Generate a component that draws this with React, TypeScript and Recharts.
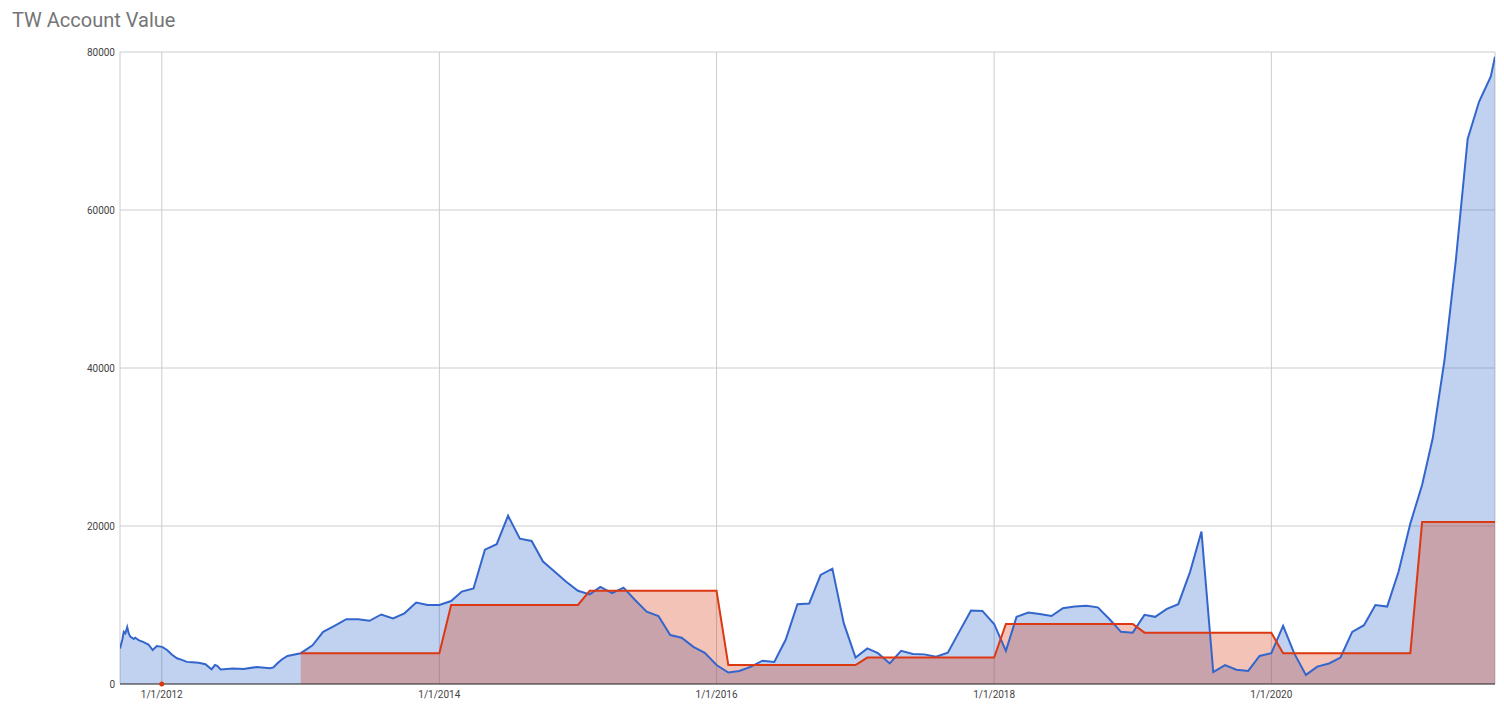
import React from 'react';
import { ComposedChart, Area, Line, XAxis, YAxis, CartesianGrid } from 'recharts';

// Account value (blue series)
const earlyDates: string[] = [
  '2011-09-13', '2011-09-19', '2011-09-23', '2011-09-27', '2011-10-02', '2011-10-06', '2011-10-10',
  '2011-10-15', '2011-10-19', '2011-10-23', '2011-11-01', '2011-11-14', '2011-11-27', '2011-12-08',
  '2011-12-19', '2012-01-02', '2012-01-15', '2012-01-28', '2012-02-10', '2012-02-23', '2012-03-07',
  '2012-03-21', '2012-04-07', '2012-04-25', '2012-05-11', '2012-05-20', '2012-05-26', '2012-06-04',
  '2012-07-07', '2012-08-03', '2012-09-07', '2012-10-12', '2012-10-21', '2012-10-31', '2012-11-12',
  '2012-11-27',
];
const earlyValues: number[] = [
  4500, 5600, 6600, 6400, 7200, 6400, 6000,
  5850, 5700, 5850, 5550, 5300, 5000, 4300,
  4800, 4700, 4300, 3700, 3250, 3050, 2800,
  2750, 2700, 2500, 1850, 2400, 2300, 1850,
  1950, 1900, 2150, 2000, 2100, 2600, 3100,
  3550,
];

const monthlyDates: string[] = [
  '2013-01-01', '2013-02-01', '2013-03-01', '2013-04-01', '2013-05-01', '2013-06-01', '2013-07-01', '2013-08-01', '2013-09-01', '2013-10-01', '2013-11-01', '2013-12-01',
  '2014-01-01', '2014-02-01', '2014-03-01', '2014-04-01', '2014-05-01', '2014-06-01', '2014-07-01', '2014-08-01', '2014-09-01', '2014-10-01', '2014-11-01', '2014-12-01',
  '2015-01-01', '2015-02-01', '2015-03-01', '2015-04-01', '2015-05-01', '2015-06-01', '2015-07-01', '2015-08-01', '2015-09-01', '2015-10-01', '2015-11-01', '2015-12-01',
  '2016-01-01', '2016-02-01', '2016-03-01', '2016-04-01', '2016-05-01', '2016-06-01', '2016-07-01', '2016-08-01', '2016-09-01', '2016-10-01', '2016-11-01', '2016-12-01',
  '2017-01-01', '2017-02-01', '2017-03-01', '2017-04-01', '2017-05-01', '2017-06-01', '2017-07-01', '2017-08-01', '2017-09-01', '2017-10-01', '2017-11-01', '2017-12-01',
  '2018-01-01', '2018-02-01', '2018-03-01', '2018-04-01', '2018-05-01', '2018-06-01', '2018-07-01', '2018-08-01', '2018-09-01', '2018-10-01', '2018-11-01', '2018-12-01',
  '2019-01-01', '2019-02-01', '2019-03-01', '2019-04-01', '2019-05-01', '2019-06-01', '2019-07-01', '2019-08-01', '2019-09-01', '2019-10-01', '2019-11-01', '2019-12-01',
  '2020-01-01', '2020-02-01', '2020-03-01', '2020-04-01', '2020-05-01', '2020-06-01', '2020-07-01', '2020-08-01', '2020-09-01', '2020-10-01', '2020-11-01', '2020-12-01',
  '2021-01-01', '2021-02-01', '2021-03-01', '2021-04-01', '2021-05-01', '2021-06-01', '2021-07-01', '2021-08-01', '2021-08-12',
];

const monthlyValues: number[] = [
  3900, 4900, 6600, 7400, 8200, 8200, 8000, 8800, 8300, 8950, 10300, 10000,
  10000, 10500, 11700, 12100, 17000, 17700, 21300, 18400, 18100, 15500, 14200, 12950,
  11800, 11350, 12300, 11500, 12200, 10600, 9150, 8600, 6200, 5850, 4700, 3950,
  2400, 1450, 1650, 2200, 2950, 2800, 5600, 10100, 10200, 13800, 14600, 7700,
  3350, 4500, 3900, 2600, 4200, 3800, 3750, 3450, 3950, 6600, 9300, 9250,
  7600, 4200, 8500, 9050, 8850, 8600, 9600, 9800, 9900, 9700, 8200, 6600,
  6500, 8750, 8500, 9500, 10100, 14200, 19300, 1500, 2400, 1800, 1650, 3550,
  3900, 7350, 3900, 1150, 2200, 2600, 3350, 6600, 7450, 10000, 9800, 14200,
  20300, 25200, 31100, 41000, 53700, 69000, 73700, 76900, 79400,
];

// Red step series (same monthly dates, plus an isolated point at 1/1/2012)
const redExtraDates: string[] = ['2012-01-01'];
const redExtraValues: number[] = [0];
const redMonthlyValues: number[] = [
  3900, 3900, 3900, 3900, 3900, 3900, 3900, 3900, 3900, 3900, 3900, 3900,
  3900, 10000, 10000, 10000, 10000, 10000, 10000, 10000, 10000, 10000, 10000, 10000,
  10000, 11800, 11800, 11800, 11800, 11800, 11800, 11800, 11800, 11800, 11800, 11800,
  11800, 2400, 2400, 2400, 2400, 2400, 2400, 2400, 2400, 2400, 2400, 2400,
  2400, 3350, 3350, 3350, 3350, 3350, 3350, 3350, 3350, 3350, 3350, 3350,
  3350, 7600, 7600, 7600, 7600, 7600, 7600, 7600, 7600, 7600, 7600, 7600,
  7600, 6500, 6500, 6500, 6500, 6500, 6500, 6500, 6500, 6500, 6500, 6500,
  6500, 3900, 3900, 3900, 3900, 3900, 3900, 3900, 3900, 3900, 3900, 3900,
  3900, 20500, 20500, 20500, 20500, 20500, 20500, 20500, 20500,
];

const xTickDates: string[] = ['2012-01-01', '2014-01-01', '2016-01-01', '2018-01-01', '2020-01-01'];
const xTickLabels: string[] = ['1/1/2012', '1/1/2014', '1/1/2016', '1/1/2018', '1/1/2020'];
const yTicks: number[] = [0, 20000, 40000, 60000, 80000];

type Row = { t: number; blue: number | null; red: number | null; iso?: boolean };

function buildData(): Row[] {
  const map = new Map<number, Row>();
  const get = (d: string) => {
    const t = Date.parse(d);
    if (!map.has(t)) map.set(t, { t, blue: null, red: null });
    return map.get(t)!;
  };
  earlyDates.forEach((d, i) => (get(d).blue = earlyValues[i]));
  monthlyDates.forEach((d, i) => (get(d).blue = monthlyValues[i]));
  redExtraDates.forEach((d, i) => (get(d).red = redExtraValues[i]));
  monthlyDates.forEach((d, i) => (get(d).red = redMonthlyValues[i]));
  const rows = Array.from(map.values()).sort((a, b) => a.t - b.t);
  rows.forEach((r, i) => {
    const prev = rows[i - 1];
    const next = rows[i + 1];
    r.iso = r.red !== null && (!prev || prev.red === null) && (!next || next.red === null);
  });
  return rows;
}

const data = buildData();
const xTicks = xTickDates.map((d) => Date.parse(d));
const tMin = data[0].t;
const tMax = data[data.length - 1].t;

const BLUE = '#3366cc';
const RED = '#dc3912';
const FONT = 'Roboto, Arial, sans-serif';

export default function App() {
  return (
    <div style={{ position: 'absolute', left: 0, top: 0, width: 1504, height: 716, background: '#fff', fontFamily: FONT }}>
      <div style={{ position: 'absolute', left: 12, top: 8, fontSize: 20, lineHeight: 'normal', color: '#757575', fontFamily: FONT, whiteSpace: 'nowrap' }}>
        TW Account Value
      </div>
      <ComposedChart width={1504} height={716} data={data} margin={{ top: 52, right: 9, bottom: 0, left: 0 }}>
        <CartesianGrid stroke="#cccccc" strokeWidth={1} />
        <XAxis
          dataKey="t"
          type="number"
          domain={[tMin, tMax]}
          ticks={xTicks}
          tickFormatter={(v: number) => xTickLabels[xTicks.indexOf(v)] ?? ''}
          height={32}
          axisLine={{ stroke: '#333333', strokeWidth: 1 }}
          tickLine={false}
          tickSize={5}
          tickMargin={2}
          tick={{ fontSize: 10, fill: '#444444', fontFamily: FONT }}
          allowDataOverflow
        />
        <YAxis
          type="number"
          domain={[0, 80000]}
          ticks={yTicks}
          width={120}
          axisLine={false}
          tickLine={false}
          tickSize={5}
          tickMargin={0}
          tick={{ fontSize: 10, fill: '#444444', fontFamily: FONT }}
        />
        <Area dataKey="blue" type="linear" stroke="none" fill={BLUE} fillOpacity={0.3} connectNulls isAnimationActive={false} />
        <Area dataKey="red" type="linear" stroke="none" fill={RED} fillOpacity={0.3} isAnimationActive={false} />
        <Line dataKey="blue" type="linear" stroke={BLUE} strokeWidth={2} dot={false} connectNulls isAnimationActive={false} />
        <Line
          dataKey="red"
          type="linear"
          stroke={RED}
          strokeWidth={2}
          isAnimationActive={false}
          dot={(p: any) =>
            p.payload && p.payload.iso ? (
              <circle key={p.key ?? 'iso'} cx={p.cx} cy={p.cy} r={2.5} fill={RED} stroke="none" />
            ) : (
              <g key={p.key ?? `d${p.index}`} />
            )
          }
        />
      </ComposedChart>
    </div>
  );
}
